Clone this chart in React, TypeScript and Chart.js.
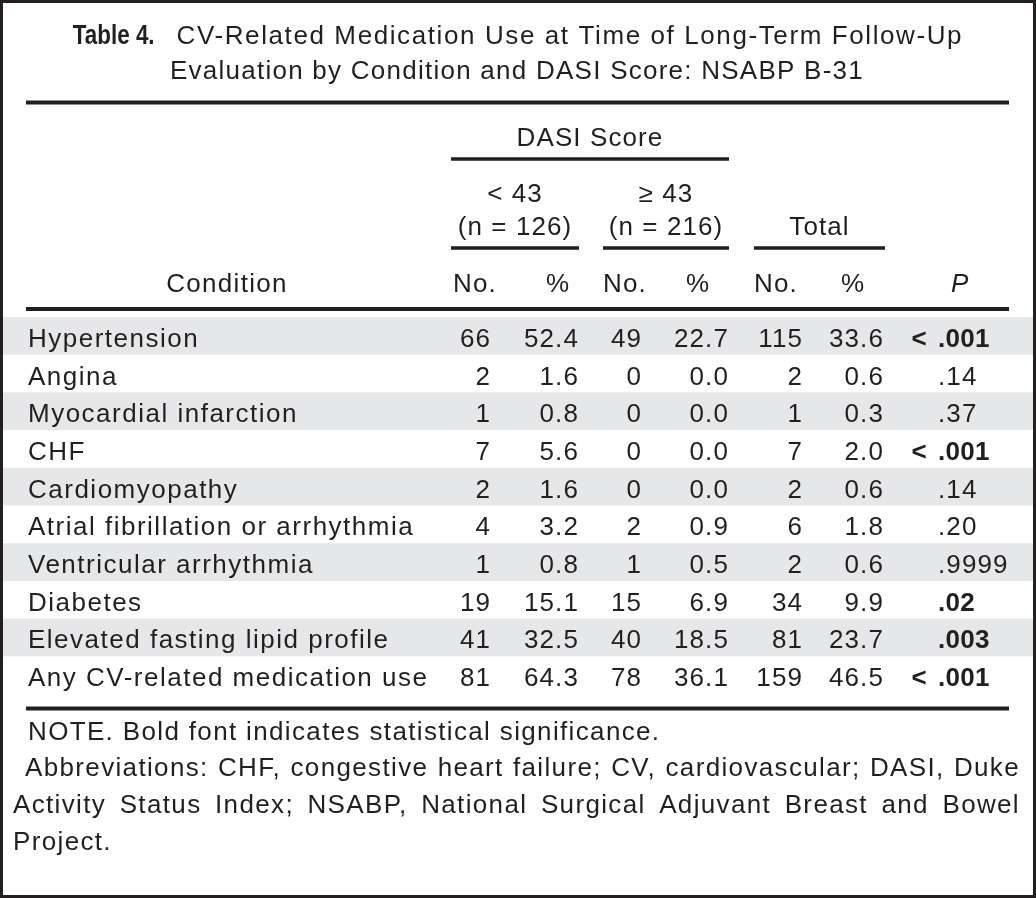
import React, { useEffect, useRef } from "react";
import { Chart, registerables } from "chart.js";

Chart.register(...registerables);

// ---------- DATA ----------
const titleLabel = "Table 4.";
const titleLine1 = "CV-Related Medication Use at Time of Long-Term Follow-Up";
const titleLine2 = "Evaluation by Condition and DASI Score: NSABP B-31";

const conditions = [
  "Hypertension",
  "Angina",
  "Myocardial infarction",
  "CHF",
  "Cardiomyopathy",
  "Atrial fibrillation or arrhythmia",
  "Ventricular arrhythmia",
  "Diabetes",
  "Elevated fasting lipid profile",
  "Any CV-related medication use",
];
const lowNo = [66, 2, 1, 7, 2, 4, 1, 19, 41, 81];
const lowPct = [52.4, 1.6, 0.8, 5.6, 1.6, 3.2, 0.8, 15.1, 32.5, 64.3];
const highNo = [49, 0, 0, 0, 0, 2, 1, 15, 40, 78];
const highPct = [22.7, 0.0, 0.0, 0.0, 0.0, 0.9, 0.5, 6.9, 18.5, 36.1];
const totalNo = [115, 2, 1, 7, 2, 6, 2, 34, 81, 159];
const totalPct = [33.6, 0.6, 0.3, 2.0, 0.6, 1.8, 0.6, 9.9, 23.7, 46.5];
const pValues = [".001", ".14", ".37", ".001", ".14", ".20", ".9999", ".02", ".003", ".001"];
const pLessThan = [true, false, false, true, false, false, false, false, false, true];
const pSignificant = [true, false, false, true, false, false, false, true, true, true];

const spanHeader = "DASI Score";
const groupHeaders = [
  ["< 43", "(n = 126)"],
  ["\u2265 43", "(n = 216)"],
  ["", "Total"],
];
const columnHeaders = ["Condition", "No.", "%", "No.", "%", "No.", "%", "P"];

const noteLine = "NOTE. Bold font indicates statistical significance.";
const abbrevLines = [
  "Abbreviations: CHF, congestive heart failure; CV, cardiovascular; DASI, Duke",
  "Activity Status Index; NSABP, National Surgical Adjuvant Breast and Bowel",
  "Project.",
];

// ---------- LAYOUT / STYLE ----------
const W = 1036;
const H = 898;
const ROW_TOP = 317;
const ROW_BOTTOM = 694;
const FONT = "'Liberation Sans', Arial, sans-serif";
const INK = "#231f20";
const BAND = "#e6e7e8";
const colRight = [490, 578, 641, 728, 802, 883];
const condX = 28;
const pDotX = 938;
const headerLeft = [0, 453, 546, 603, 686, 754, 841, 951];
const groupSpans = [
  [451, 579],
  [603, 729],
  [754, 885],
];

function App() {
  const ref = useRef<HTMLCanvasElement | null>(null);

  useEffect(() => {
    const canvas = ref.current;
    if (!canvas) return;

    const numCols = [lowNo, lowPct, highNo, highPct, totalNo, totalPct];
    const fmt = (c: number, v: number) => (c % 2 === 1 ? v.toFixed(1) : String(v));

    const datasets: any[] = [];
    datasets.push({
      label: "Condition",
      data: conditions.map((_, i) => ({ x: condX, y: i })),
      pointRadius: 0,
      showLine: false,
    });
    numCols.forEach((arr, c) => {
      datasets.push({
        label: "col" + c,
        data: arr.map((_, i) => ({ x: colRight[c], y: i })),
        pointRadius: 0,
        showLine: false,
      });
    });
    datasets.push({
      label: "P",
      data: pValues.map((_, i) => ({ x: pDotX, y: i })),
      pointRadius: 0,
      showLine: false,
    });

    const setFont = (ctx: CanvasRenderingContext2D, f: string, ls = "1.1px") => {
      ctx.font = f;
      (ctx as any).letterSpacing = ls;
    };

    const hline = (ctx: CanvasRenderingContext2D, x0: number, x1: number, y: number, w: number) => {
      ctx.fillStyle = INK;
      ctx.fillRect(x0, y - w / 2, x1 - x0, w);
    };

    const justify = (ctx: CanvasRenderingContext2D, text: string, x0: number, x1: number, y: number) => {
      const words = text.split(" ");
      const widths = words.map((w) => ctx.measureText(w).width);
      const total = widths.reduce((a, b) => a + b, 0);
      const gap = words.length > 1 ? (x1 - x0 - total) / (words.length - 1) : 0;
      let x = x0;
      ctx.textAlign = "left";
      words.forEach((w, i) => {
        ctx.fillText(w, x, y);
        x += widths[i] + gap;
      });
    };

    const plugin = {
      id: "tableDraw",
      beforeDraw(chart: any) {
        const ctx: CanvasRenderingContext2D = chart.ctx;
        ctx.save();
        ctx.fillStyle = "#ffffff";
        ctx.fillRect(0, 0, W, H);
        const ys = chart.scales.y;
        ctx.fillStyle = BAND;
        conditions.forEach((_, i) => {
          if (i % 2 === 0) {
            const t = ys.getPixelForValue(i - 0.5);
            const b = ys.getPixelForValue(i + 0.5);
            ctx.fillRect(3, t, W - 6, b - t);
          }
        });
        ctx.restore();
      },
      afterDatasetsDraw(chart: any) {
        const ctx: CanvasRenderingContext2D = chart.ctx;
        ctx.save();
        ctx.fillStyle = INK;
        ctx.textBaseline = "alphabetic";
        const base = 11;

        // body cells
        chart.data.datasets.forEach((ds: any, di: number) => {
          const meta = chart.getDatasetMeta(di);
          meta.data.forEach((el: any, i: number) => {
            const x = el.x;
            const y = el.y + base;
            ctx.fillStyle = INK;
            if (di === 0) {
              setFont(ctx, `26px ${FONT}`, "1.5px");
              ctx.textAlign = "left";
              ctx.fillText(conditions[i], x, y);
            } else if (di <= 6) {
              const c = di - 1;
              setFont(ctx, `26px ${FONT}`, "1.1px");
              ctx.textAlign = "right";
              ctx.fillText(fmt(c, numCols[c][i]), x + 1, y);
            } else {
              const bold = pSignificant[i];
              setFont(ctx, `${bold ? "bold " : ""}26px ${FONT}`, bold ? "0.3px" : "1.1px");
              ctx.textAlign = "left";
              ctx.fillText(pValues[i], x, y);
              if (pLessThan[i]) {
                ctx.textAlign = "right";
                ctx.fillText("<", x - 11, y);
              }
            }
          });
        });

        // title
        const labFont = `bold 28px ${FONT}`;
        const labScale = 0.8;
        setFont(ctx, labFont, "0px");
        const wLab = ctx.measureText(titleLabel).width * labScale;
        setFont(ctx, `26px ${FONT}`, "1.6px");
        const wT1 = ctx.measureText(titleLine1).width;
        const gap = 22;
        const start = 518 - (wLab + gap + wT1) / 2;
        ctx.save();
        setFont(ctx, labFont, "0px");
        ctx.textAlign = "left";
        ctx.translate(start, 44);
        ctx.scale(labScale, 1);
        ctx.fillText(titleLabel, 0, 0);
        ctx.restore();
        ctx.fillStyle = INK;
        setFont(ctx, `26px ${FONT}`, "1.6px");
        ctx.textAlign = "left";
        ctx.fillText(titleLine1, start + wLab + gap, 44);
        setFont(ctx, `26px ${FONT}`, "1.25px");
        ctx.textAlign = "center";
        ctx.fillText(titleLine2, 517, 79);
        hline(ctx, 26, 1009, 102.5, 4);

        // header
        ctx.fillStyle = INK;
        setFont(ctx, `26px ${FONT}`);
        ctx.textAlign = "center";
        ctx.fillText(spanHeader, (groupSpans[0][0] + groupSpans[1][1]) / 2, 146);
        hline(ctx, groupSpans[0][0], groupSpans[1][1], 159, 3.5);
        groupHeaders.forEach((g, k) => {
          const cx = (groupSpans[k][0] + groupSpans[k][1]) / 2;
          ctx.fillStyle = INK;
          ctx.textAlign = "center";
          if (g[0]) ctx.fillText(g[0], cx, 202);
          ctx.fillText(g[1], cx, 235);
          hline(ctx, groupSpans[k][0], groupSpans[k][1], 248, 3.5);
        });
        ctx.fillStyle = INK;
        columnHeaders.forEach((h, k) => {
          if (k === 0) {
            ctx.textAlign = "center";
            setFont(ctx, `26px ${FONT}`, "1.3px");
            ctx.fillText(h, 227, 292);
          } else if (k === columnHeaders.length - 1) {
            ctx.textAlign = "left";
            setFont(ctx, `italic 26px ${FONT}`);
            ctx.fillText(h, headerLeft[k], 292);
          } else {
            ctx.textAlign = "left";
            setFont(ctx, `26px ${FONT}`);
            ctx.fillText(h, headerLeft[k], 292);
          }
        });
        hline(ctx, 26, 1009, 309, 4);
        hline(ctx, 26, 1009, 708.5, 4);

        // notes
        ctx.fillStyle = INK;
        setFont(ctx, `26px ${FONT}`, "1.35px");
        ctx.textAlign = "left";
        ctx.fillText(noteLine, 28, 740);
        justify(ctx, abbrevLines[0], 25, 1020, 776);
        justify(ctx, abbrevLines[1], 13, 1020, 813);
        ctx.textAlign = "left";
        ctx.fillText(abbrevLines[2], 13, 850);

        // frame
        ctx.strokeStyle = INK;
        ctx.lineWidth = 3;
        ctx.strokeRect(1.5, 1.5, W - 3, H - 3);
        ctx.restore();
      },
    };

    const chart = new Chart(canvas, {
      type: "scatter",
      data: { datasets },
      options: {
        responsive: false,
        devicePixelRatio: 1,
        animation: false,
        events: [],
        layout: { padding: { top: ROW_TOP, bottom: H - ROW_BOTTOM, left: 0, right: 0 } },
        scales: {
          x: { type: "linear", min: 0, max: W, display: false },
          y: { type: "linear", min: -0.5, max: conditions.length - 0.5, reverse: true, display: false },
        },
        plugins: { legend: { display: false }, tooltip: { enabled: false } },
      },
      plugins: [plugin],
    });
    return () => chart.destroy();
  }, []);

  return (
    <div style={{ position: "absolute", left: 0, top: 0, width: W, height: H }}>
      <canvas ref={ref} width={W} height={H} style={{ display: "block", width: W, height: H }} />
    </div>
  );
}

export default App;
